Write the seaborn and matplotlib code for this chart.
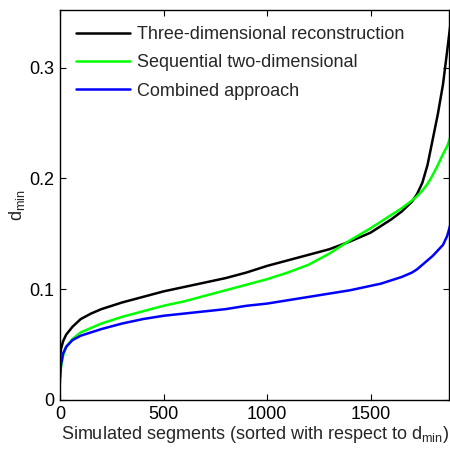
import matplotlib
matplotlib.use("Agg")
import matplotlib.pyplot as plt
import seaborn as sns
import pandas as pd

# Sorted d_min curves
segments = [0, 5, 15, 30, 60, 100, 150, 200, 300, 400, 500, 600, 700, 800, 900,
            1000, 1100, 1200, 1300, 1400, 1500, 1550, 1600, 1650, 1700, 1725,
            1750, 1775, 1800, 1825, 1850, 1870, 1885]
three_dim = [0.038, 0.046, 0.053, 0.059, 0.066, 0.073, 0.078, 0.082, 0.088, 0.093,
             0.098, 0.102, 0.106, 0.110, 0.115, 0.121, 0.126, 0.131, 0.136, 0.143,
             0.151, 0.157, 0.163, 0.170, 0.179, 0.186, 0.196, 0.212, 0.235, 0.258,
             0.285, 0.315, 0.338]
sequential_2d = [0.015, 0.030, 0.040, 0.048, 0.055, 0.061, 0.065, 0.069, 0.075, 0.080,
                 0.085, 0.089, 0.094, 0.099, 0.104, 0.109, 0.115, 0.122, 0.132, 0.144,
                 0.155, 0.161, 0.167, 0.173, 0.180, 0.184, 0.189, 0.195, 0.203, 0.212,
                 0.222, 0.229, 0.237]
combined = [0.020, 0.032, 0.042, 0.048, 0.054, 0.058, 0.061, 0.064, 0.069, 0.073,
            0.076, 0.078, 0.080, 0.082, 0.085, 0.087, 0.090, 0.093, 0.096, 0.099,
            0.103, 0.105, 0.108, 0.111, 0.115, 0.118, 0.122, 0.126, 0.130, 0.135,
            0.140, 0.148, 0.158]

labels = ["Three-dimensional reconstruction", "Sequential two-dimensional", "Combined approach"]
colors = ["#000000", "#00ff00", "#0000ff"]

df = pd.DataFrame({
    "segment": segments * 3,
    "dmin": three_dim + sequential_2d + combined,
    "method": [labels[0]] * len(segments) + [labels[1]] * len(segments) + [labels[2]] * len(segments),
})

sns.set_theme(style="white")
plt.rcParams["font.family"] = ["Liberation Sans", "DejaVu Sans"]

fig = plt.figure(figsize=(4.5, 4.54), dpi=100)
ax = fig.add_axes([0.1333, 0.119, 0.865, 0.859])

sns.lineplot(data=df, x="segment", y="dmin", hue="method", hue_order=labels,
             palette=colors, linewidth=1.8, ax=ax)

ax.set_xlim(0, 1880)
ax.set_ylim(0, 0.352)
ax.set_xticks([0, 500, 1000, 1500])
ax.set_yticks([0, 0.1, 0.2, 0.3])
ax.set_yticklabels(["0", "0.1", "0.2", "0.3"])
ax.tick_params(direction="in", length=4, width=0.8, labelsize=13, colors="black",
               top=True, right=True, bottom=True, left=True, pad=4)
for s in ax.spines.values():
    s.set_color("black")
    s.set_linewidth(1.0)

ax.set_xlabel("Simulated segments (sorted with respect to d$_{\\mathregular{min}}$)", fontsize=13, labelpad=1)
ax.set_ylabel("d$_{\\mathregular{min}}$", fontsize=13, labelpad=2)

leg = ax.legend(loc="upper left", frameon=False, fontsize=13, handlelength=3.0,
                handletextpad=0.35, borderaxespad=0.5, labelspacing=0.62)

fig.savefig("out.png", dpi=100)
